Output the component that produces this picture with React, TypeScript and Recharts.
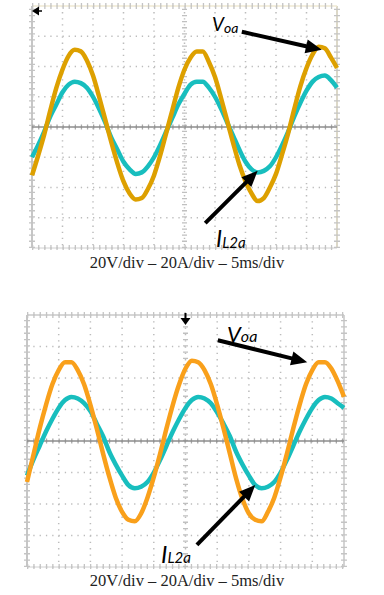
import { CartesianGrid, Line, LineChart, ReferenceLine, XAxis, YAxis } from 'recharts';

// time base, ms (5 ms/div, 10 div)
const TIME = [
  0, 1, 2, 3, 4, 5, 6, 7, 8, 9, 10, 11, 12, 13, 14, 15, 16, 17, 18, 19, 20, 21, 22, 23, 24, 25,
  26, 27, 28, 29, 30, 31, 32, 33, 34, 35, 36, 37, 38, 39, 40, 41, 42, 43, 44, 45, 46, 47, 48, 49, 50,
];
const X_TICKS = [0, 5, 10, 15, 20, 25, 30, 35, 40, 45, 50];
const Y_TICKS = [-80, -60, -40, -20, 0, 20, 40, 60, 80];

// upper capture: Voa (V) and IL2a (A)
const VOA_TOP = [
  -32, -19, -5, 11, 26, 38, 47, 51, 50, 44, 34, 20, 5, -10, -24, -36, -44, -48, -47, -41, -32,
  -19, -4, 11, 26, 38, 46, 50, 50, 43, 33, 19, 4, -11, -25, -36, -44, -49, -47, -40, -31,
  -18, -4, 12, 27, 39, 48, 53, 52, 46, 39,
];
const IL_TOP = [
  -20, -12, -3, 7, 15, 23, 28, 30, 29, 26, 20, 12, 3, -7, -15, -23, -28, -31, -30, -26, -20,
  -12, -3, 6, 15, 22, 28, 30, 30, 26, 20, 12, 3, -6, -15, -23, -28, -30, -29, -26, -20,
  -12, -3, 7, 16, 24, 30, 33, 34, 31, 26,
];

// lower capture
const VOA_BOT = [
  -26, -9, 8, 23, 36, 45, 50, 50, 45, 36, 23, 8, -8, -23, -36, -45, -50, -51, -46, -36, -23,
  -8, 8, 23, 36, 46, 51, 50, 45, 36, 23, 8, -8, -24, -37, -46, -50, -51, -45, -36, -23,
  -8, 8, 23, 36, 45, 50, 50, 46, 38, 28,
];
const IL_BOT = [
  -22, -12, -3, 6, 14, 21, 26, 28, 27, 24, 19, 11, 3, -7, -15, -22, -28, -30, -29, -26, -20,
  -12, -3, 6, 14, 21, 26, 28, 27, 24, 18, 11, 3, -7, -15, -22, -28, -30, -29, -26, -20,
  -12, -3, 6, 14, 21, 26, 28, 27, 24, 21,
];

// annotation arrows, in data units [t, value]
const ARROWS_TOP = [
  { from: [34.4, 63], to: [47.5, 51] },
  { from: [28.4, -63.6], to: [37.0, -29] },
];
const ARROWS_BOT = [
  { from: [30.1, 64], to: [44.2, 50] },
  { from: [26.8, -66], to: [36.0, -28] },
];

const CAPTION = '20V/div \u2013 20A/div \u2013 5ms/div';

const arrowShape = (p: any) => {
  const { x1, y1, x2, y2 } = p;
  const dx = x2 - x1;
  const dy = y2 - y1;
  const len = Math.hypot(dx, dy) || 1;
  const ux = dx / len;
  const uy = dy / len;
  const hl = 16;
  const hw = 7;
  const bx = x2 - ux * hl;
  const by = y2 - uy * hl;
  return (
    <g>
      <line x1={x1} y1={y1} x2={bx + ux} y2={by + uy} stroke="#000" strokeWidth={4} />
      <polygon
        points={`${x2},${y2} ${bx - uy * hw},${by + ux * hw} ${bx + uy * hw},${by - ux * hw}`}
        fill="#000"
      />
    </g>
  );
};

interface ScopeProps {
  voa: number[];
  il: number[];
  arrows: { from: number[]; to: number[] }[];
  width: number;
  height: number;
  margin: { top: number; right: number; bottom: number; left: number };
  orange: string;
  edges: { left: string; right: string; top: string; bottom: string };
  tickDash: string;
}

function Scope({ voa, il, arrows, width, height, margin, orange, edges, tickDash }: ScopeProps) {
  const data = TIME.map((t, i) => ({ t, voa: voa[i], il: il[i] }));
  return (
    <LineChart width={width} height={height} data={data} margin={margin}>
      <XAxis dataKey="t" type="number" domain={[0, 50]} ticks={X_TICKS} hide />
      <YAxis type="number" domain={[-80, 80]} ticks={Y_TICKS} hide />
      <CartesianGrid stroke="#bcbcbc" strokeWidth={1.5} strokeDasharray={tickDash} />
      {/* frame */}
      <ReferenceLine x={0} stroke={edges.left} strokeWidth={2} />
      <ReferenceLine x={50} stroke={edges.right} strokeWidth={2} />
      <ReferenceLine y={80} stroke={edges.top} strokeWidth={1.5} />
      <ReferenceLine y={-80} stroke={edges.bottom} strokeWidth={1} />
      <ReferenceLine y={80} stroke="#c4c4c4" strokeWidth={6} strokeDasharray={tickDash} />
      <ReferenceLine y={-80} stroke="#c4c4c4" strokeWidth={6} strokeDasharray={tickDash} />
      <ReferenceLine x={0} stroke="#c4c4c4" strokeWidth={6} strokeDasharray={tickDash} />
      <ReferenceLine x={50} stroke="#c4c4c4" strokeWidth={6} strokeDasharray={tickDash} />
      {/* centre axes */}
      <ReferenceLine x={25} stroke="#c0c0c0" strokeWidth={5} strokeDasharray={tickDash} />
      <ReferenceLine y={0} stroke="#a8a8a8" strokeWidth={5} strokeDasharray={tickDash} />
      <ReferenceLine y={0} stroke="#8c8c8c" strokeWidth={1.6} />
      <Line
        type="monotone"
        dataKey="il"
        stroke="#18BEBE"
        strokeWidth={4.5}
        dot={false}
        isAnimationActive={false}
      />
      <Line
        type="monotone"
        dataKey="voa"
        stroke={orange}
        strokeWidth={4.5}
        dot={false}
        isAnimationActive={false}
      />
      {arrows.map((a, i) => (
        <ReferenceLine
          key={i}
          segment={[
            { x: a.from[0], y: a.from[1] },
            { x: a.to[0], y: a.to[1] },
          ]}
          shape={arrowShape}
        />
      ))}
    </LineChart>
  );
}

const labelFont = 'Lato, "Open Sans", sans-serif';

export default function App() {
  return (
    <div style={{ position: 'absolute', left: 0, top: 0, width: 384, height: 595, background: '#fff' }}>
      <div style={{ position: 'absolute', left: 0, top: 0 }}>
        <Scope
          voa={VOA_TOP}
          il={IL_TOP}
          arrows={ARROWS_TOP}
          width={384}
          height={250}
          margin={{ top: 6, right: 47, bottom: 2, left: 32 }}
          orange="#DDA000"
          edges={{ left: '#c6c6c6', right: '#dcd8c8', top: '#efe8d2', bottom: '#d0d0d0' }}
          tickDash="1.3 4.8"
        />
      </div>
      <div style={{ position: 'absolute', left: 0, top: 309 }}>
        <Scope
          voa={VOA_BOT}
          il={IL_BOT}
          arrows={ARROWS_BOT}
          width={384}
          height={260}
          margin={{ top: 6, right: 40, bottom: 2, left: 27 }}
          orange="#F9A01B"
          edges={{ left: '#c6c6c6', right: '#d4d4d4', top: '#c8c8c8', bottom: '#d0d0d0' }}
          tickDash="1.3 5"
        />
      </div>
      <svg
        width={384}
        height={595}
        style={{ position: 'absolute', left: 0, top: 0, pointerEvents: 'none' }}
      >
        {/* trigger markers */}
        <polygon points="32,11 39,6.5 39,15.5" fill="#000" />
        <line x1={38} y1={11} x2={42} y2={11} stroke="#000" strokeWidth={1.5} />
        <polygon points="180.5,318 190.5,318 185.5,325" fill="#000" />
        <line x1={185.5} y1={313} x2={185.5} y2={319} stroke="#000" strokeWidth={2} />

        <text x={212} y={31} fontFamily={labelFont} fontStyle="italic" fontSize={19} fill="#000">
          V<tspan fontSize={14} dy={2}>oa</tspan>
        </text>
        <text x={216} y={247} fontFamily={labelFont} fontStyle="italic" fontSize={23} fill="#000">
          I<tspan fontSize={15} dy={1}>L2a</tspan>
        </text>
        <text x={227} y={342} fontFamily={labelFont} fontStyle="italic" fontSize={22} fill="#000">
          V<tspan fontSize={16} dy={0}>oa</tspan>
        </text>
        <text x={161} y={563} fontFamily={labelFont} fontStyle="italic" fontSize={24} fill="#000">
          I<tspan fontSize={15} dy={0}>L2a</tspan>
        </text>

        <text x={187} y={268} textAnchor="middle" fontFamily='"Liberation Serif", serif' fontSize={16.5} fill="#222">
          {CAPTION}
        </text>
        <text x={187} y={586} textAnchor="middle" fontFamily='"Liberation Serif", serif' fontSize={16.5} fill="#222">
          {CAPTION}
        </text>
      </svg>
    </div>
  );
}
